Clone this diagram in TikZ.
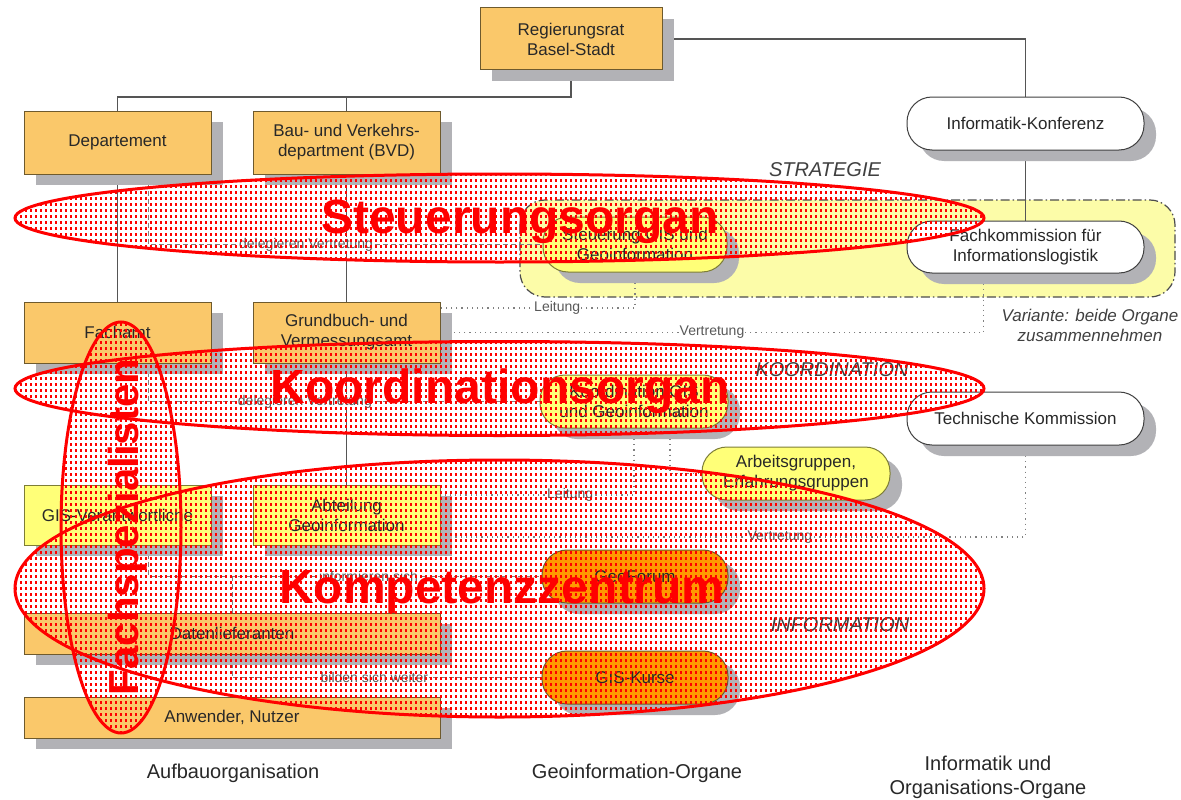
\documentclass[tikz,border=0pt]{standalone}
\usepackage{fontspec}
\setmainfont{Liberation Sans}
\usetikzlibrary{patterns,shadows}
\pgfdeclarelayer{bg}
\pgfsetlayers{bg,main}
\pgfdeclarepatternformonly{reddots}{\pgfqpoint{-1pt}{-1pt}}{\pgfqpoint{6pt}{7pt}}{\pgfqpoint{5pt}{6pt}}{%
  \pgfpathrectangle{\pgfqpoint{0pt}{0pt}}{\pgfqpoint{2.3pt}{2.7pt}}\pgfusepath{fill}}
\definecolor{boxorange}{RGB}{250,200,106}
\definecolor{boxborder}{RGB}{110,90,45}
\definecolor{boxyellow}{RGB}{255,255,120}
\definecolor{yborder}{RGB}{125,125,55}
\definecolor{regyellow}{RGB}{252,252,168}
\definecolor{deeporange}{RGB}{255,153,0}
\definecolor{shadowgray}{RGB}{178,178,182}
\definecolor{linegray}{RGB}{85,85,85}
\definecolor{txt}{RGB}{40,40,40}
\begin{document}
\begin{tikzpicture}[x=1pt,y=-1pt,
  shad/.style={drop shadow={shadow xshift=12pt, shadow yshift=-11pt, fill=shadowgray, opacity=1}},
  obox/.style={draw=boxborder, line width=1pt, fill=boxorange, shad, text=txt,
    font=\fontsize{17}{20}\selectfont, align=center, inner sep=2pt},
  ybox/.style={obox, fill=boxyellow, draw=yborder},
  pill/.style={draw=black!75, line width=1pt, rounded corners=25pt, fill=white, shad, text=txt,
    font=\fontsize{17}{20}\selectfont, align=center, inner sep=2pt},
  ypill/.style={pill, fill=boxyellow, draw=yborder},
  opill/.style={pill, fill=deeporange, draw=boxborder},
  conn/.style={draw=linegray, line width=1.1pt},
  dashc/.style={draw=gray, line width=1pt, dash pattern=on 5pt off 3pt},
  dotc/.style={draw=gray, line width=1.2pt, dash pattern=on 1.2pt off 4pt},
  lbl/.style={fill=white, inner sep=1pt, text=black!65, font=\fontsize{14}{16}\selectfont},
  ital/.style={font=\fontsize{20}{22}\selectfont\itshape, text=black!75},
  bottomlbl/.style={font=\fontsize{20}{24}\selectfont, text=txt, align=center},
  regionstyle/.style={fill=regyellow, draw=black!70, line width=1.2pt, rounded corners=25pt,
    dash pattern=on 9pt off 3pt on 1.5pt off 3pt},
  redell/.style={draw=red, line width=3pt, pattern=reddots, pattern color=red},
  redtxt/.style={text=red, font=\fontsize{48}{50}\selectfont\bfseries, anchor=base, inner sep=0pt}
]
\useasboundingbox (0,0) rectangle (1181,800);

% ---- nodes: column Aufbauorganisation
\node[obox, minimum width=182pt, minimum height=62pt] (reg) at (571,39) {Regierungsrat\\Basel-Stadt};
\node[obox, minimum width=187pt, minimum height=63pt] (dep) at (117.5,142.5) {Departement};
\node[obox, minimum width=187pt, minimum height=63pt] (bvd) at (346.5,142.5) {Bau- und Verkehrs-\\department (BVD)};
\node[obox, minimum width=187pt, minimum height=61pt] (fa) at (117.5,332.5) {Fachamt};
\node[obox, minimum width=187pt, minimum height=61pt] (gb) at (346.5,332.5) {Grundbuch- und\\Vermessungsamt};
\node[ybox, minimum width=187pt, minimum height=60pt] (gisv) at (117.5,515) {GIS-Verantwortliche};
\node[ybox, minimum width=187pt, minimum height=60pt] (abt) at (346.5,515) {Abteilung\\Geoinformation};
\node[obox, minimum width=416pt, minimum height=41pt] (dl) at (232,633.5) {Datenlieferanten};
\node[obox, minimum width=416pt, minimum height=41pt] (anw) at (232,717.5) {Anwender, Nutzer};

% ---- Geoinformation-Organe
\node[ypill, minimum width=184pt, minimum height=55pt] (sgis) at (635,244.5) {Steuerung GIS und\\Geoinformation};
\node[ypill, minimum width=188pt, minimum height=53pt] (kgis) at (634,401.5) {Koordination GIS\\und Geoinformation};
\node[ypill, minimum width=188pt, minimum height=53pt] (ag) at (796,473.5) {Arbeitsgruppen,\\Erfahrungsgruppen};
\node[opill, minimum width=186pt, minimum height=53pt] (geof) at (635,576.5) {GeoForum};
\node[opill, minimum width=186pt, minimum height=53pt] (gisk) at (635,677.5) {GIS-Kurse};

% ---- Informatik und Organisations-Organe
\node[pill, minimum width=237pt, minimum height=53pt] (ik) at (1025.5,123.5) {Informatik-Konferenz};
\node[pill, minimum width=237pt, minimum height=52pt] (fk) at (1025.5,247) {Fachkommission für\\Informationslogistik};
\node[pill, minimum width=237pt, minimum height=53pt] (tk) at (1025.5,418.5) {Technische Kommission};

% ---- texts
\node[ital] (strat) at (825,170) {STRATEGIE};
\node[ital] (koord) at (832,370) {KOORDINATION};
\node[ital] (info) at (840,625) {INFORMATION};
\node[font=\fontsize{17}{20}\selectfont\itshape, text=black!75, align=center] (var) at (1090,325) {Variante: beide Organe\\zusammennehmen};
\node[bottomlbl] (b1) at (233,773) {Aufbauorganisation};
\node[bottomlbl] (b2) at (637,773) {Geoinformation-Organe};
\node[bottomlbl] (b3) at (988,777) {Informatik und\\Organisations-Organe};

% ---- background, region and connectors
\begin{pgfonlayer}{bg}
  \fill[white] (0,0) rectangle (1181,800);
  \path[regionstyle] (520,200) rectangle (1175,297);
  \coordinate (j) at (571,97);
  \draw[conn] (reg.south) -- (j) -| (dep.north);
  \draw[conn] (j) -| (bvd.north);
  \draw[conn] (reg.east) -| (ik.north);
  \draw[conn] (ik.south) -- (fk.north);
  \draw[conn] (dep.south) -- (fa.north);
  \draw[conn] (bvd.south) -- (gb.north);
  \draw[conn] (gb.south) -- (abt.north);
  \draw[dashc] ([xshift=31pt]dep.south) |- node[lbl,pos=0.7]{delegieren Vertretung} (sgis.west);
  \draw[dashc] ([xshift=31pt]fa.south) |- node[lbl,pos=0.7]{delegieren Vertretung} (kgis.west);
  \draw[dotc] (sgis.south) |- node[lbl,pos=0.7]{Leitung} ([yshift=24.5pt]gb.east);
  \draw[dotc] ([xshift=-42pt]fk.south) |- node[lbl,pos=0.75]{Vertretung} (gb.east);
  \draw[dotc] (kgis.south) |- node[lbl,pos=0.665]{Leitung} ([yshift=20pt]abt.east);
  \draw[dotc] ([xshift=36pt]kgis.south) |- (ag.west);
  \draw[dotc] (tk.south) |- node[lbl,pos=0.71]{Vertretung} ([yshift=-22pt]abt.east);
  \draw[dashc] ([xshift=31pt]gisv.south) |- node[lbl,pos=0.78]{informieren sich} (geof.west);
  \draw[dashc] (dl.north) -- (dl.north |- geof.west);
  \draw[dashc] (dl.south) |- node[lbl,pos=0.73]{bilden sich weiter} (gisk.west);
\end{pgfonlayer}

% ---- red overlay
\path[redell] (499.5,218) ellipse [x radius=484.5, y radius=44];
\path[redell] (499.5,388.5) ellipse [x radius=484.5, y radius=47];
\path[redell] (499.5,588.5) ellipse [x radius=484.5, y radius=128.5];
\path[redell] (121,527.5) ellipse [x radius=60, y radius=205.5];
\node[redtxt] (t1) at (520,233) {Steuerungsorgan};
\node[redtxt] (t2) at (500,403) {Koordinationsorgan};
\node[redtxt] (t3) at (502,603) {Kompetenzzentrum};
\node[redtxt, rotate=90, font=\fontsize{42}{44}\selectfont\bfseries] (t4) at (138,527) {Fachspezialisten};
\end{tikzpicture}
\end{document}
